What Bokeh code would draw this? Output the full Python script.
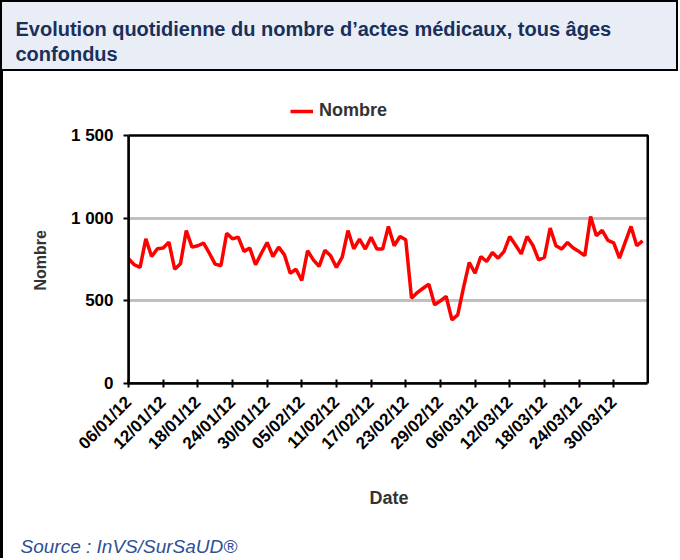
from bokeh.plotting import figure
from bokeh.layouts import column
from bokeh.models import FixedTicker, Legend, LegendItem, Range1d, BoxAnnotation, Title
from bokeh.core.properties import value
from bokeh.embed import file_html
from bokeh.resources import INLINE
import math

title_lines = ["Evolution quotidienne du nombre d\u2019actes m\u00e9dicaux, tous \u00e2ges", "confondus"]
source_text = "Source : InVS/SurSaUD\u00ae"
series_name = "Nombre"
x_label = "Date"

# daily counts from 06/01/12 to 04/04/12
values = [754, 718, 702, 875, 768, 815, 819, 855, 691, 724,
          925, 825, 833, 849, 788, 722, 712, 909, 875, 885,
          799, 819, 718, 788, 853, 768, 825, 778, 667, 691,
          623, 803, 748, 708, 806, 772, 702, 764, 925, 815,
          873, 813, 885, 813, 813, 950, 833, 889, 869, 516,
          550, 576, 600, 476, 500, 526, 385, 415, 580, 732,
          667, 768, 738, 792, 758, 798, 889, 838, 784, 889,
          836, 748, 763, 940, 833, 813, 853, 819, 798, 773,
          1010, 894, 926, 865, 851, 758, 855, 950, 833, 863]

x_tick_labels = ["06/01/12", "12/01/12", "18/01/12", "24/01/12", "30/01/12",
                 "05/02/12", "11/02/12", "17/02/12", "23/02/12", "29/02/12",
                 "06/03/12", "12/03/12", "18/03/12", "24/03/12", "30/03/12"]
tick_step = 6
y_ticks = [0, 500, 1000, 1500]
y_tick_labels = ["0", "500", "1 000", "1 500"]
y_max = 1500
x_end = 89.9

FONT = "Liberation Sans"
W = 678

# ---- title block
TH = 71
tf = figure(width=W, height=TH, x_range=(0, W), y_range=(0, TH), min_border=0,
            x_axis_type=None, y_axis_type=None, output_backend="svg", toolbar_location=None,
            background_fill_color="#E9EEF6", border_fill_color="#E9EEF6",
            outline_line_color="black", outline_line_width=3)
tf.frame_align = False
tf.grid.visible = False
tf.text(x=[15, 15], y=[TH - 28, TH - 53], text=title_lines, text_font=value(FONT),
        text_font_style="bold", text_font_size="20px", text_color="#1B2F5B",
        text_baseline="middle")

# ---- main chart (frame extends above the plot box to host the legend)
xs = list(range(len(values)))
p = figure(width=W, height=451, x_range=Range1d(0, 90.2), y_range=Range1d(0, 1772),
           min_border_left=125, min_border_right=32, min_border_top=19, min_border_bottom=139,
           output_backend="svg", toolbar_location=None, outline_line_color=None,
           styles={"border-left": "3px solid black"})
p.frame_align = False
r = p.line(xs, values, line_color="#FF0000", line_width=3.5)

p.xgrid.visible = False
p.ygrid.ticker = FixedTicker(ticks=y_ticks[1:-1])
p.ygrid.grid_line_color = "#C0C0C0"
p.ygrid.grid_line_width = 3
p.ygrid.bounds = (0, x_end)

box = BoxAnnotation(left=0, right=x_end, bottom=0, top=y_max, fill_alpha=0,
                    line_color="black", line_alpha=1.0, line_width=2.5)
p.add_layout(box)

p.xaxis.ticker = FixedTicker(ticks=[i * tick_step for i in range(len(x_tick_labels))])
p.xaxis.major_label_overrides = {i * tick_step: lab for i, lab in enumerate(x_tick_labels)}
p.xaxis.major_label_orientation = math.pi / 4
p.xaxis.axis_label = x_label
p.xaxis.axis_label_standoff = 25
p.xaxis.bounds = (0, x_end)

p.yaxis.ticker = FixedTicker(ticks=y_ticks)
p.yaxis.major_label_overrides = dict(zip(y_ticks, y_tick_labels))
p.yaxis.bounds = (0, y_max)

for ax in (p.xaxis[0], p.yaxis[0]):
    ax.axis_line_color = "black"
    ax.axis_line_width = 2.5
    ax.major_tick_line_color = "black"
    ax.major_tick_line_width = 2
    ax.minor_tick_line_color = None
    ax.major_label_text_font = FONT
    ax.major_label_text_font_style = "bold"
    ax.major_label_text_color = "black"
    ax.axis_label_text_font = FONT
    ax.axis_label_text_font_style = "bold"
    ax.axis_label_text_font_size = "18px"
    ax.axis_label_text_color = "#333333"

p.xaxis.major_label_text_font_size = "17px"
p.xaxis.major_tick_in = 4
p.xaxis.major_tick_out = 4
p.xaxis.major_label_standoff = 12
p.yaxis.major_label_text_font_size = "17px"
p.yaxis.major_tick_in = 0
p.yaxis.major_tick_out = 5
p.yaxis.major_label_standoff = 10

# y axis title, placed alongside the 0-1500 box
ytitle = Title(text=series_name, align="left", offset=93, standoff=38,
               text_font=FONT, text_font_style="bold", text_font_size="16px",
               text_color="#333333")
p.add_layout(ytitle, "left")

legend = Legend(items=[LegendItem(label=series_name, renderers=[r])], location=(162, 262),
                orientation="horizontal", padding=0, margin=0, border_line_color=None,
                background_fill_alpha=0, glyph_width=23, label_standoff=6,
                label_text_font=FONT, label_text_font_style="bold",
                label_text_font_size="18px", label_text_color="#333333")
p.add_layout(legend)

# ---- source
SH = 36
sf = figure(width=W, height=SH, x_range=(0, W), y_range=(0, SH), min_border=0,
            x_axis_type=None, y_axis_type=None, output_backend="svg", toolbar_location=None,
            outline_line_color=None, styles={"border-left": "3px solid black"})
sf.frame_align = False
sf.grid.visible = False
sf.text(x=[17], y=[SH - 24], text=[source_text], text_font=value(FONT), text_font_style="italic",
        text_font_size="19px", text_color="#2F4F96", text_baseline="middle")

layout = column(tf, p, sf, spacing=0)
open("out.html", "w").write(file_html(layout, INLINE))
